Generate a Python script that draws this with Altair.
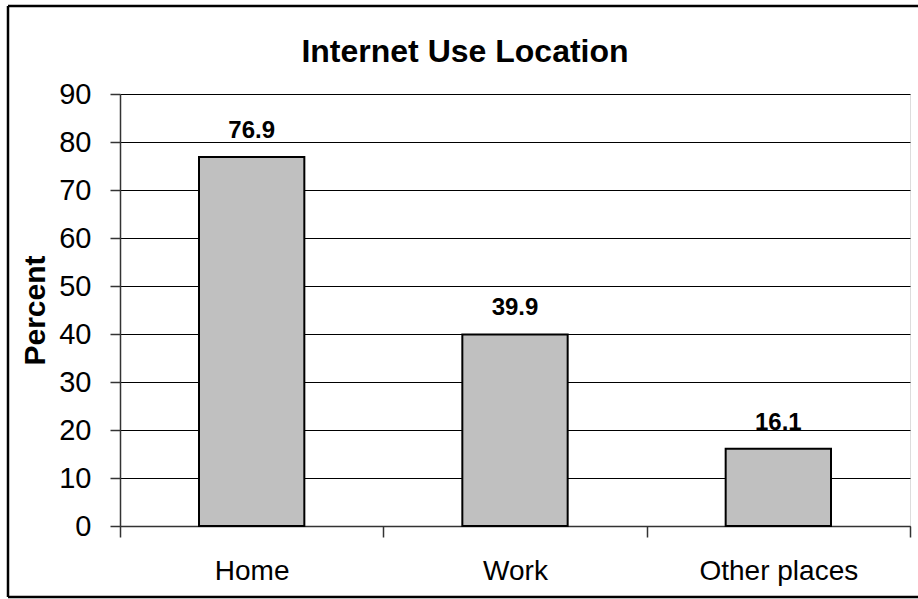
import altair as alt
import pandas as pd

categories = ["Home", "Work", "Other places"]
values = [76.9, 39.9, 16.1]
y_ticks = [0, 10, 20, 30, 40, 50, 60, 70, 80, 90]

df = pd.DataFrame({"location": categories, "percent": values})
FONT = "Liberation Sans"

x_enc = alt.X(
    "location:N",
    sort=categories,
    title=None,
    scale=alt.Scale(paddingInner=0.6, paddingOuter=0.3),
    axis=alt.Axis(
        labelAngle=0, labelFont=FONT, labelFontSize=28, labelColor="black",
        labelPadding=20, bandPosition=2.5, tickExtra=True, tickOffset=-79,
        labelOffset=79, tickSize=11, tickColor="#333333",
        tickWidth=1.5, domainColor="#333333", domainWidth=1.5, grid=False,
    ),
)
y_enc = alt.Y(
    "percent:Q",
    title="Percent",
    scale=alt.Scale(domain=[0, 90], nice=False),
    axis=alt.Axis(
        values=y_ticks, labelFont=FONT, labelFontSize=29, labelColor="black",
        labelPadding=19, tickSize=10, tickColor="#333333", tickWidth=1.5,
        domainColor="#333333", domainWidth=1.5, grid=True, gridColor="black",
        gridWidth=1, titleFont=FONT, titleFontSize=30, titleFontWeight="bold",
        titleColor="black", titlePadding=8,
    ),
)

bars = alt.Chart(df).mark_bar(
    color="#C0C0C0", stroke="black", strokeWidth=2
).encode(x=x_enc, y=y_enc)

labels = alt.Chart(df).mark_text(
    font=FONT, fontSize=24, fontWeight="bold", color="black",
    baseline="alphabetic", dy=-19,
).encode(
    x=alt.X("location:N", sort=categories),
    y=alt.Y("percent:Q"),
    text=alt.Text("percent:Q", format=".1f"),
)

one = pd.DataFrame({"f": [0]})
border_style = dict(stroke="black", strokeWidth=2.5, clip=False)
top_edge = alt.Chart(one).mark_rule(**border_style).encode(
    x=alt.value(-112), x2=alt.value(850), y=alt.value(-88)
)
bottom_edge = alt.Chart(one).mark_rule(**border_style).encode(
    x=alt.value(-112), x2=alt.value(850), y=alt.value(503)
)
left_edge = alt.Chart(one).mark_rule(**border_style).encode(
    x=alt.value(-112), y=alt.value(-88), y2=alt.value(503)
)

chart = alt.layer(bars, labels, top_edge, bottom_edge, left_edge).properties(
    width=790,
    height=432,
    padding={"left": 120, "top": 94, "right": 8, "bottom": 73},
    autosize=alt.AutoSizeParams(type="none"),
    title=alt.TitleParams(
        "Internet Use Location", font=FONT, fontSize=32, fontWeight="bold",
        color="black", anchor="middle", frame="group", offset=0,
        baseline="alphabetic", dy=89, dx=-50,
    ),
).configure_view(
    stroke="#808080", strokeWidth=1.5
).configure(background="white")

chart.save("out.html", embed_options={"renderer": "svg", "actions": False})
